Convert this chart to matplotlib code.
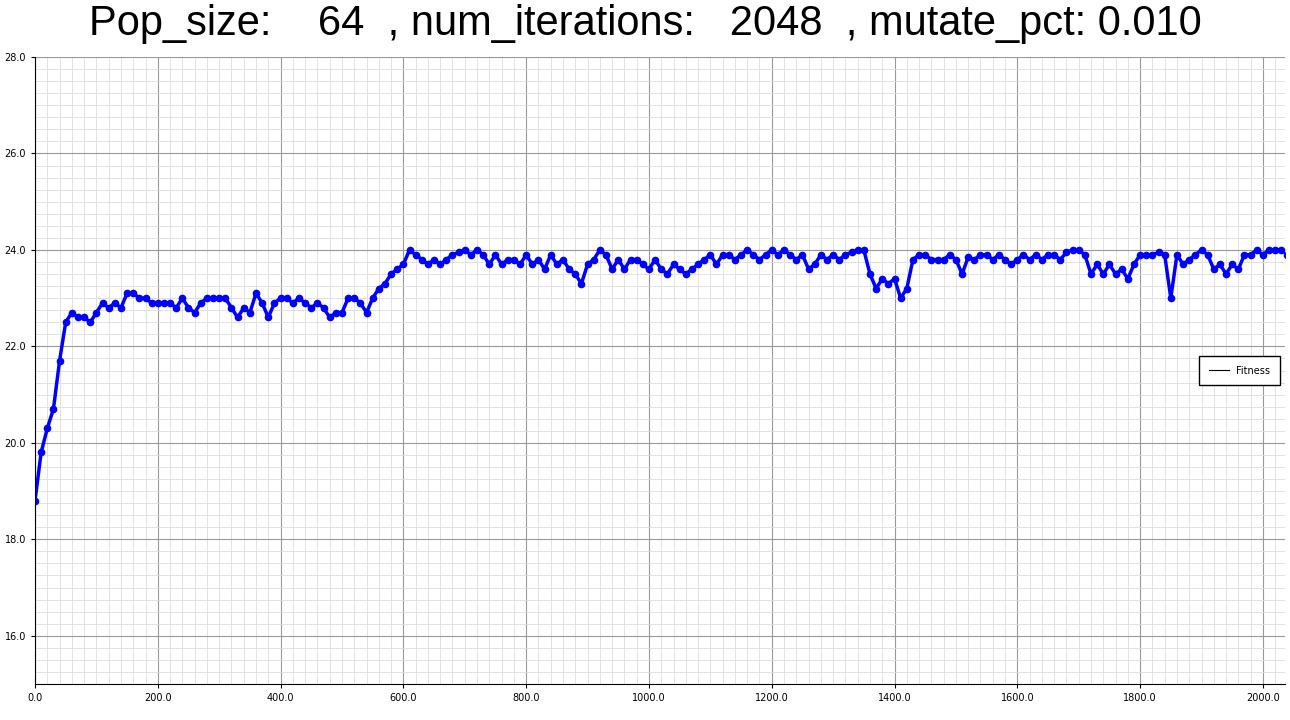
import numpy as np
import matplotlib.pyplot as plt
from matplotlib.ticker import MultipleLocator, FormatStrFormatter

# fitness every 10 iterations
iterations = np.arange(0, 2050, 10)
fitness = [
    18.8, 19.8, 20.3, 20.7, 21.7, 22.5, 22.7, 22.6, 22.6, 22.5,
    22.7, 22.9, 22.8, 22.9, 22.8, 23.1, 23.1, 23.0, 23.0, 22.9,
    22.9, 22.9, 22.9, 22.8, 23.0, 22.8, 22.7, 22.9, 23.0, 23.0,
    23.0, 23.0, 22.8, 22.6, 22.8, 22.7, 23.1, 22.9, 22.6, 22.9,
    23.0, 23.0, 22.9, 23.0, 22.9, 22.8, 22.9, 22.8, 22.6, 22.7,
    22.7, 23.0, 23.0, 22.9, 22.7, 23.0, 23.2, 23.3, 23.5, 23.6,
    23.7, 24.0, 23.9, 23.8, 23.7, 23.8, 23.7, 23.8, 23.9, 23.95,
    24.0, 23.9, 24.0, 23.9, 23.7, 23.9, 23.7, 23.8, 23.8, 23.7,
    23.9, 23.7, 23.8, 23.6, 23.9, 23.7, 23.8, 23.6, 23.5, 23.3,
    23.7, 23.8, 24.0, 23.9, 23.6, 23.8, 23.6, 23.8, 23.8, 23.7,
    23.6, 23.8, 23.6, 23.5, 23.7, 23.6, 23.5, 23.6, 23.7, 23.8,
    23.9, 23.7, 23.9, 23.9, 23.8, 23.9, 24.0, 23.9, 23.8, 23.9,
    24.0, 23.9, 24.0, 23.9, 23.8, 23.9, 23.6, 23.7, 23.9, 23.8,
    23.9, 23.8, 23.9, 23.95, 24.0, 24.0, 23.5, 23.2, 23.4, 23.3,
    23.4, 23.0, 23.2, 23.8, 23.9, 23.9, 23.8, 23.8, 23.8, 23.9,
    23.8, 23.5, 23.85, 23.8, 23.9, 23.9, 23.8, 23.9, 23.8, 23.7,
    23.8, 23.9, 23.8, 23.9, 23.8, 23.9, 23.9, 23.8, 23.95, 24.0,
    24.0, 23.9, 23.5, 23.7, 23.5, 23.7, 23.5, 23.6, 23.4, 23.7,
    23.9, 23.9, 23.9, 23.95, 23.9, 23.0, 23.9, 23.7, 23.8, 23.9,
    24.0, 23.9, 23.6, 23.7, 23.5, 23.7, 23.6, 23.9, 23.9, 24.0,
    23.9, 24.0, 24.0, 24.0, 23.9,
]

fig = plt.figure(figsize=(12.9, 7.2), dpi=100)
ax = fig.add_axes([35 / 1290, 36 / 720, 1250 / 1290, 627 / 720])

ax.plot(iterations, fitness, color='#0000ff', lw=2.5, marker='o', ms=4.5,
        label='_nolegend_')
ax.plot([], [], color='black', lw=0.8, label='Fitness')

ax.set_xlim(0, 2036)
ax.set_ylim(15, 28)
ax.xaxis.set_major_locator(MultipleLocator(200))
ax.xaxis.set_minor_locator(MultipleLocator(20))
ax.yaxis.set_major_locator(MultipleLocator(2))
ax.yaxis.set_minor_locator(MultipleLocator(0.25))
ax.xaxis.set_major_formatter(FormatStrFormatter('%.1f'))
ax.yaxis.set_major_formatter(FormatStrFormatter('%.1f'))
ax.tick_params(labelsize=7, length=3)
ax.tick_params(which='minor', length=0)
ax.grid(which='major', color='#999999', lw=0.8)
ax.grid(which='minor', color='#dddddd', lw=0.6)
ax.set_axisbelow(True)
for side in ('top', 'right'):
    ax.spines[side].set_visible(False)

ax.legend(loc='center right', bbox_to_anchor=(1.0, 0.5), fontsize=7,
          fancybox=False, edgecolor='black', framealpha=1, borderpad=1.0)

fig.suptitle('Pop_size:    64  , num_iterations:   2048  , mutate_pct: 0.010',
             fontsize=30, y=0.995, family='Liberation Sans')

fig.savefig('out.png', dpi=100)
